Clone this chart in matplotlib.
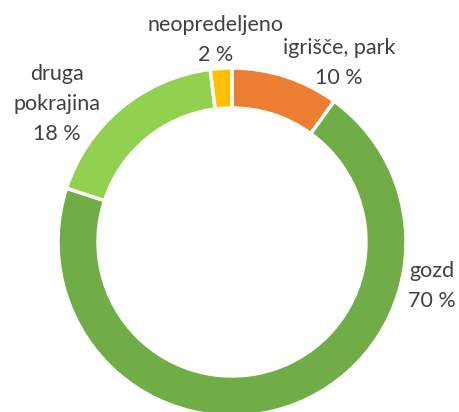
import matplotlib
matplotlib.use("Agg")
import matplotlib.pyplot as plt

# data
categories = ["igrišče, park", "gozd", "druga pokrajina", "neopredeljeno"]
shares = [10, 70, 18, 2]
colors = ["#ED7D31", "#70AD47", "#92D050", "#FFC000"]

# label text layout (pixel positions of text centres in the 460x412 picture)
label_px = {
    "igrišče, park": (339, 63),
    "gozd": (432, 286),
    "druga pokrajina": (57, 104),
    "neopredeljeno": (216, 40),
}
label_lines = {
    "igrišče, park": "igrišče, park\n10 %",
    "gozd": "gozd\n70 %",
    "druga pokrajina": "druga\npokrajina\n18 %",
    "neopredeljeno": "neopredeljeno\n2 %",
}

W, H = 460, 412
cx, cy, R = 232, 242, 174


def to_data(px, py):
    return (px - cx) / R, (cy - py) / R


plt.rcParams["font.family"] = ["Lato", "DejaVu Sans"]

fig = plt.figure(figsize=(W / 100, H / 100), dpi=100)
ax = fig.add_axes([0, 0, 1, 1])

ax.pie(
    shares,
    colors=colors,
    startangle=90,
    counterclock=False,
    radius=1.0,
    wedgeprops=dict(width=0.23, edgecolor="white", linewidth=2.5),
)

# pie() resets the limits, so set them afterwards
ax.set_xlim(-cx / R, (W - cx) / R)
ax.set_ylim(-(H - cy) / R, cy / R)
ax.set_aspect("equal")
ax.axis("off")

for cat, val in zip(categories, shares):
    x, y = to_data(*label_px[cat])
    ax.text(x, y, label_lines[cat], ha="center", va="center",
            fontsize=15.5, color="#404040", linespacing=1.6)

fig.savefig("out.png", dpi=100, facecolor="white")
